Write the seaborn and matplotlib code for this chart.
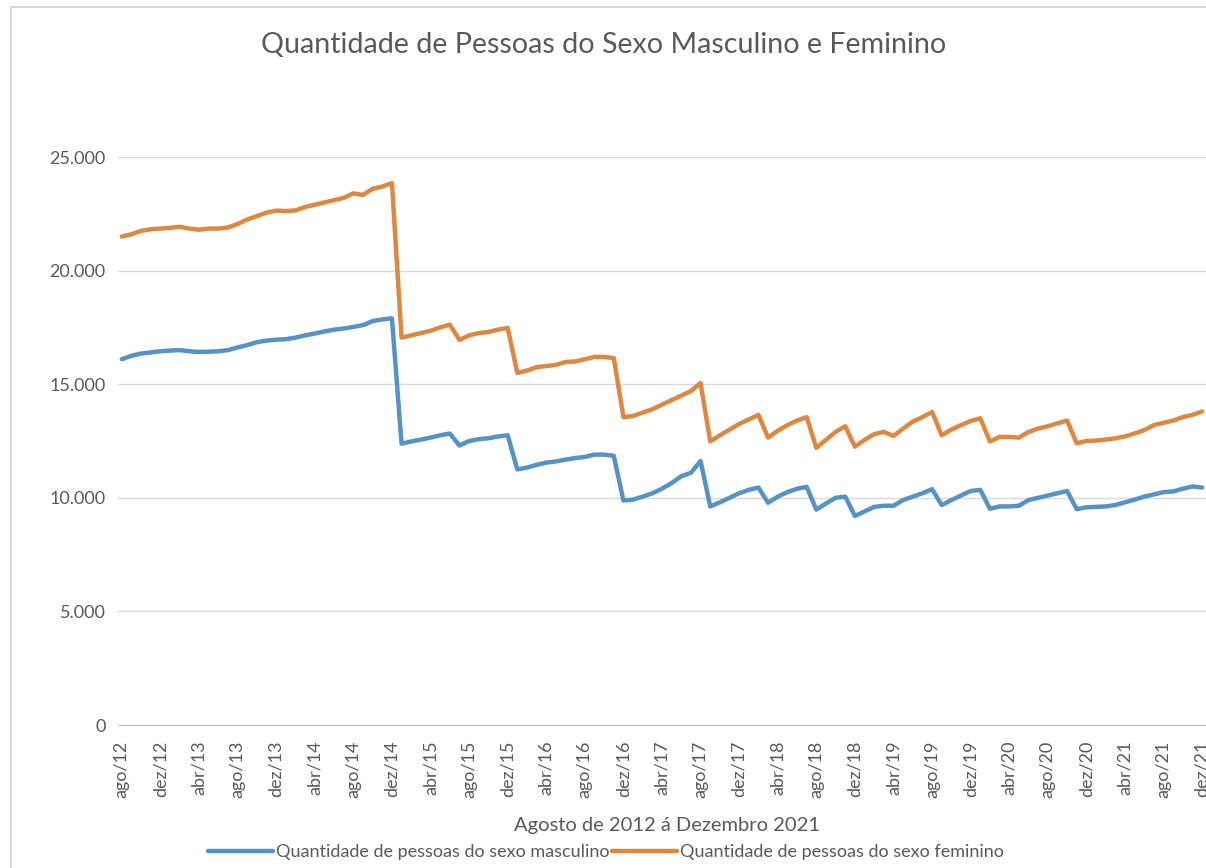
import numpy as np
import pandas as pd
import matplotlib
matplotlib.use("Agg")
import matplotlib.pyplot as plt
import seaborn as sns
from matplotlib.ticker import FuncFormatter

sns.set_style("white")
plt.rcParams['font.family'] = ['Lato', 'DejaVu Sans']

# monthly labels, ago/12 .. dez/21
meses = ["jan", "fev", "mar", "abr", "mai", "jun", "jul", "ago", "set", "out", "nov", "dez"]
periodos = [f"{meses[m]}/{a % 100:02d}" for a in range(2012, 2022) for m in range(12)
            if not (a == 2012 and m < 7)]

masculino = [
    16100, 16250, 16350, 16400, 16450, 16480, 16500, 16450, 16420, 16430,
    16450, 16500, 16620, 16720, 16850, 16920, 16960, 16980, 17050, 17150,
    17230, 17320, 17400, 17450, 17520, 17600, 17780, 17850, 17900, 12380,
    12480, 12560, 12650, 12750, 12830, 12300, 12500, 12580, 12620, 12700,
    12750, 11250, 11330, 11450, 11550, 11600, 11680, 11750, 11800, 11900,
    11900, 11850, 9880, 9920, 10050, 10200, 10400, 10650, 10950, 11100,
    11620, 9620, 9800, 10000, 10200, 10350, 10450, 9780, 10050, 10250,
    10400, 10480, 9480, 9750, 10000, 10050, 9200, 9400, 9600, 9650,
    9650, 9900, 10050, 10200, 10380, 9680, 9900, 10100, 10300, 10350,
    9520, 9620, 9620, 9650, 9900, 10000, 10100, 10200, 10300, 9500,
    9580, 9600, 9620, 9680, 9800, 9920, 10050, 10150, 10250, 10280,
    10400, 10500, 10450,
]

feminino = [
    21500, 21600, 21750, 21820, 21850, 21880, 21930, 21850, 21800, 21850,
    21850, 21900, 22050, 22250, 22400, 22550, 22640, 22620, 22650, 22800,
    22900, 23000, 23100, 23200, 23400, 23330, 23600, 23700, 23850, 17050,
    17150, 17250, 17350, 17500, 17620, 16950, 17150, 17250, 17300, 17400,
    17480, 15500, 15600, 15750, 15800, 15850, 15980, 16000, 16100, 16200,
    16200, 16150, 13550, 13600, 13750, 13900, 14100, 14300, 14500, 14700,
    15050, 12480, 12750, 13000, 13250, 13450, 13650, 12650, 12950, 13200,
    13400, 13550, 12200, 12550, 12900, 13150, 12250, 12550, 12800, 12900,
    12720, 13050, 13350, 13550, 13780, 12750, 13000, 13200, 13380, 13500,
    12480, 12680, 12680, 12650, 12900, 13050, 13150, 13280, 13400, 12400,
    12500, 12520, 12560, 12620, 12700, 12830, 12980, 13200, 13300, 13400,
    13550, 13650, 13800,
]

serie_m = "Quantidade de pessoas do sexo masculino"
serie_f = "Quantidade de pessoas do sexo feminino"

df = pd.DataFrame({
    "idx": list(range(len(periodos))) * 2,
    "valor": masculino + feminino,
    "serie": [serie_m] * len(masculino) + [serie_f] * len(feminino),
})

W, H = 1206, 868
fig = plt.figure(figsize=(W / 100, H / 100), dpi=100)
ax = fig.add_axes([118 / W, (H - 725) / H, (W - 118) / W, (725 - 157) / H])

cores = {serie_m: "#5592C6", serie_f: "#DC8840"}
sns.lineplot(data=df, x="idx", y="valor", hue="serie", palette=cores,
             linewidth=3.2, ax=ax, legend=False)

ax.set_xlim(-0.4, 112.4)
ax.set_ylim(0, 25000)
ax.set_yticks(range(0, 25001, 5000))
ax.yaxis.set_major_formatter(FuncFormatter(lambda v, p: f"{int(v):,}".replace(",", ".")))
ax.grid(axis="y", color="#D9D9D9", linewidth=1)
ax.set_axisbelow(True)
for s in ["top", "right", "left"]:
    ax.spines[s].set_visible(False)
ax.spines["bottom"].set_color("#BFBFBF")

pos = list(range(0, len(periodos), 4))
ax.set_xticks(pos)
ax.set_xticklabels([periodos[i] for i in pos], rotation=90)
ax.tick_params(axis="x", colors="#BFBFBF", length=6, labelcolor="#595959",
               labelsize=13, pad=5)
ax.tick_params(axis="y", length=0, labelcolor="#595959", labelsize=13, pad=9)
ax.set_xlabel("")
ax.set_ylabel("")

fig.text(604 / W, 1 - 45 / H, "Quantidade de Pessoas do Sexo Masculino e Feminino",
         ha="center", va="center", fontsize=20.6, color="#595959")
fig.text(667 / W, 1 - 825 / H, "Agosto de 2012 á Dezembro 2021",
         ha="center", va="center", fontsize=14.5, color="#595959")

handles = [plt.Line2D([], [], color=cores[serie_m], linewidth=3.2),
           plt.Line2D([], [], color=cores[serie_f], linewidth=3.2)]
fig.legend(handles, [serie_m, serie_f], loc="center", ncol=2,
           bbox_to_anchor=(606 / W, 1 - 852 / H), frameon=False,
           fontsize=13, labelcolor="#595959", handlelength=3.6,
           handletextpad=0.15, columnspacing=0.15)

# outer chart border (left and top edges visible in the crop)
fig.add_artist(plt.Line2D([11 / W, 11 / W], [0, 1 - 7 / H], color="#D0D0D0", linewidth=1.2))
fig.add_artist(plt.Line2D([11 / W, 1], [1 - 7 / H, 1 - 7 / H], color="#D0D0D0", linewidth=1.2))

fig.savefig("out.png", dpi=100)
